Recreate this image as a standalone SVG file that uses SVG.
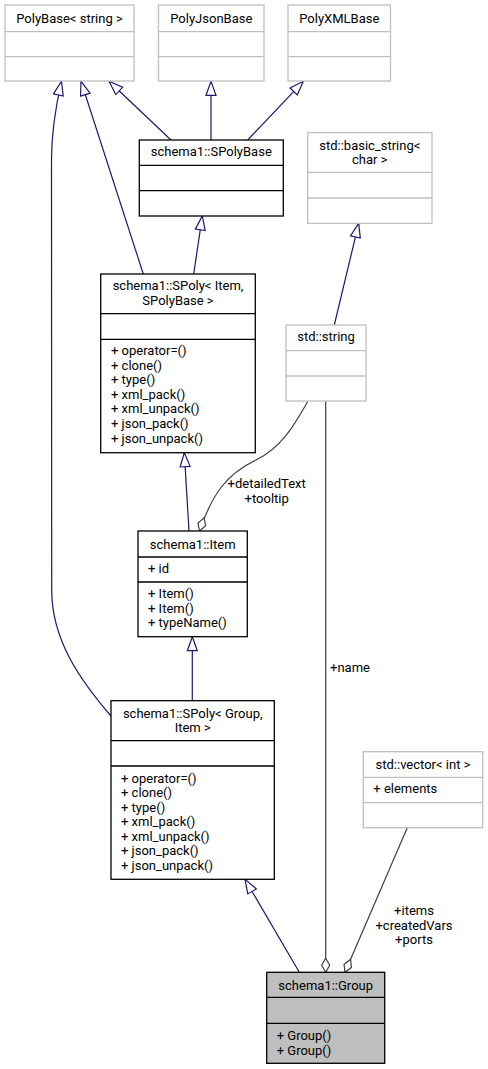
<svg xmlns="http://www.w3.org/2000/svg" width="488" height="1069" viewBox="0 0 488 1069">
<style>
text{font-family:Roboto,"Liberation Sans",sans-serif;font-size:13px;fill:#000}
.t{text-anchor:middle}
.ext{fill:#fff;stroke:#bfbfbf;stroke-width:1.3}
.doc{fill:#fff;stroke:#000;stroke-width:1.3}
.cur{fill:#bfbfbf;stroke:#000;stroke-width:1.3}
.dx{stroke:#bfbfbf;stroke-width:1.3}
.dd{stroke:#000;stroke-width:1.3}
.inh{fill:none;stroke:#191970;stroke-width:1.2;marker-end:url(#inh)}
.agg{fill:none;stroke:#404040;stroke-width:1.2;marker-end:url(#agg)}
.lbl{text-anchor:middle}
</style>
<defs>
<marker id="inh" markerUnits="userSpaceOnUse" viewBox="-1 -6 16 12" markerWidth="16" markerHeight="12" refX="14" refY="0" orient="auto" overflow="visible">
<path d="M0,-5 L14,0 L0,5 Z" fill="#fff" stroke="#191970" stroke-width="1.2"/>
</marker>
<marker id="agg" markerUnits="userSpaceOnUse" viewBox="-1 -5 16 10" markerWidth="16" markerHeight="10" refX="14" refY="0" orient="auto" overflow="visible">
<path d="M0,0 L7,-4 L14,0 L7,4 Z" fill="#fff" stroke="#404040" stroke-width="1.2"/>
</marker>
</defs>
<rect width="488" height="1069" fill="#fff"/>
<g id="connectors">
<path class="inh" d="M171,140 L109,81.3"/>
<path class="inh" d="M211,140 L211,81.3"/>
<path class="inh" d="M247.7,140 L303.3,81.3"/>
<path class="inh" d="M143.3,274 L81,81.3"/>
<path class="inh" d="M111,716 C80,680 51.7,640 51.7,590 L51.5,160 C51.5,130 56,105 61.5,81.3"/>
<path class="inh" d="M193.7,274 L202.3,216"/>
<path class="inh" d="M334.3,325 L358.7,223.3"/>
<path class="inh" d="M189,531 L184.3,452.7"/>
<path class="inh" d="M192.3,700.7 L192.3,636.7"/>
<path class="inh" d="M299.3,972.3 L245,879.3"/>
<path class="agg" d="M307.7,401.5 C296,422 282,448 256,460 C226,474 212,495 199.5,531"/>
<path class="agg" d="M325.7,401 L325.7,972.3"/>
<path class="agg" d="M407.3,827.7 L345,972.3"/>
<text class="lbl" x="266.7" y="488">+detailedText</text>
<text class="lbl" x="266.7" y="503">+tooltip</text>
<text x="330" y="672">+name</text>
<text class="lbl" x="414" y="915">+items</text>
<text class="lbl" x="414" y="929.5">+createdVars</text>
<text class="lbl" x="414" y="944">+ports</text>
</g>
<g id="n_polybase">
<rect class="ext" x="5" y="5" width="129" height="76"/>
<line class="dx" x1="5" y1="31.7" x2="134" y2="31.7"/>
<line class="dx" x1="5" y1="56.7" x2="134" y2="56.7"/>
<text class="t" x="69.5" y="22.5">PolyBase&lt; string &gt;</text>
</g>
<g id="n_polyjson">
<rect class="ext" x="158.5" y="5" width="105.5" height="76"/>
<line class="dx" x1="158.5" y1="31.7" x2="264" y2="31.7"/>
<line class="dx" x1="158.5" y1="56.7" x2="264" y2="56.7"/>
<text class="t" x="211.3" y="22.5">PolyJsonBase</text>
</g>
<g id="n_polyxml">
<rect class="ext" x="288" y="5" width="102.5" height="76"/>
<line class="dx" x1="288" y1="31.7" x2="390.5" y2="31.7"/>
<line class="dx" x1="288" y1="56.7" x2="390.5" y2="56.7"/>
<text class="t" x="339.3" y="22.5">PolyXMLBase</text>
</g>
<g id="n_spolybase">
<rect class="doc" x="139.3" y="140" width="144" height="76"/>
<line class="dd" x1="139.3" y1="165.3" x2="283.3" y2="165.3"/>
<line class="dd" x1="139.3" y1="190.7" x2="283.3" y2="190.7"/>
<text class="t" x="211.3" y="156">schema1::SPolyBase</text>
</g>
<g id="n_basicstring">
<rect class="ext" x="307.7" y="132.7" width="124.3" height="90.6"/>
<line class="dx" x1="307.7" y1="172.3" x2="432" y2="172.3"/>
<line class="dx" x1="307.7" y1="198" x2="432" y2="198"/>
<text class="t" x="369.8" y="149.5">std::basic_string&lt;</text>
<text class="t" x="369.8" y="163.5">char &gt;</text>
</g>
<g id="n_spolyitem">
<rect class="doc" x="100.7" y="274" width="154.6" height="178.7"/>
<line class="dd" x1="100.7" y1="313.7" x2="255.3" y2="313.7"/>
<line class="dd" x1="100.7" y1="339.3" x2="255.3" y2="339.3"/>
<text class="t" x="178" y="290">schema1::SPoly&lt; Item,</text>
<text class="t" x="178" y="304.6">SPolyBase &gt;</text>
<text x="111" y="355">+ operator=()</text>
<text x="111" y="369.6">+ clone()</text>
<text x="111" y="384.2">+ type()</text>
<text x="111" y="398.8">+ xml_pack()</text>
<text x="111" y="413.4">+ xml_unpack()</text>
<text x="111" y="428">+ json_pack()</text>
<text x="111" y="442.6">+ json_unpack()</text>
</g>
<g id="n_stdstring">
<rect class="ext" x="286" y="325" width="80" height="76"/>
<line class="dx" x1="286" y1="350.7" x2="366" y2="350.7"/>
<line class="dx" x1="286" y1="376" x2="366" y2="376"/>
<text class="t" x="326" y="341">std::string</text>
</g>
<g id="n_item">
<rect class="doc" x="138" y="531" width="109.3" height="105.7"/>
<line class="dd" x1="138" y1="557" x2="247.3" y2="557"/>
<line class="dd" x1="138" y1="582" x2="247.3" y2="582"/>
<text class="t" x="192.7" y="548.5">schema1::Item</text>
<text x="148" y="573">+ id</text>
<text x="148" y="598">+ Item()</text>
<text x="148" y="612.6">+ Item()</text>
<text x="148" y="627.2">+ typeName()</text>
</g>
<g id="n_spolygroup">
<rect class="doc" x="111" y="700.7" width="163.3" height="178.6"/>
<line class="dd" x1="111" y1="740.7" x2="274.3" y2="740.7"/>
<line class="dd" x1="111" y1="766" x2="274.3" y2="766"/>
<text class="t" x="192.7" y="718">schema1::SPoly&lt; Group,</text>
<text class="t" x="192.7" y="732">Item &gt;</text>
<text x="121" y="782.8">+ operator=()</text>
<text x="121" y="797.2">+ clone()</text>
<text x="121" y="811.8">+ type()</text>
<text x="121" y="826.2">+ xml_pack()</text>
<text x="121" y="840.5">+ xml_unpack()</text>
<text x="121" y="855.2">+ json_pack()</text>
<text x="121" y="869.5">+ json_unpack()</text>
</g>
<g id="n_vector">
<rect class="ext" x="363.3" y="751.7" width="119.4" height="76"/>
<line class="dx" x1="363.3" y1="777.3" x2="482.7" y2="777.3"/>
<line class="dx" x1="363.3" y1="802.7" x2="482.7" y2="802.7"/>
<text class="t" x="423" y="768.5">std::vector&lt; int &gt;</text>
<text x="373.3" y="793">+ elements</text>
</g>
<g id="n_group">
<rect class="cur" x="266.7" y="972.3" width="118" height="91"/>
<line class="dd" x1="266.7" y1="997.3" x2="384.7" y2="997.3"/>
<line class="dd" x1="266.7" y1="1023.3" x2="384.7" y2="1023.3"/>
<text class="t" x="325.7" y="990">schema1::Group</text>
<text x="276.7" y="1039.5">+ Group()</text>
<text x="276.7" y="1054.5">+ Group()</text>
</g>
</svg>
